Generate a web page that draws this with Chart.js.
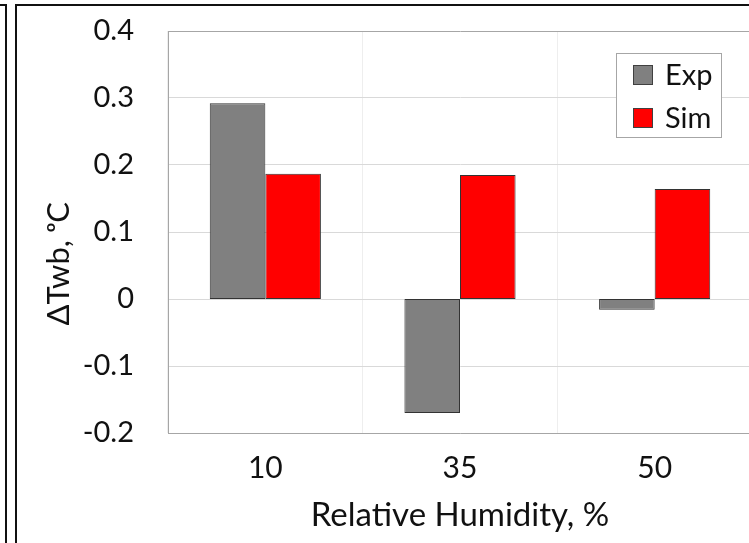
<!DOCTYPE html>
<html>
<head>
<meta charset="utf-8">
<script src="https://cdn.jsdelivr.net/npm/chart.js@4.4.1/dist/chart.umd.min.js"></script>
<style>
    html, body { margin: 0; padding: 0; background: #fff; overflow: hidden; }
    #wrap { position: relative; width: 749px; height: 543px; overflow: hidden; }
    #wrap canvas { position: absolute; left: 0; top: 0; }
    .frame { position: absolute; border-color: #111; border-style: solid; border-width: 0; }
</style>
</head>
<body>
<div id="wrap">
    <canvas id="twb-chart"></canvas>
    <div class="frame" style="left:-10px; top:4px; width:15px; height:560px; border-top-width:2px; border-right-width:2px;"></div>
    <div class="frame" style="left:15px; top:4px; width:760px; height:560px; border-top-width:2px; border-left-width:2px;"></div>
</div>
<script>
// data
var humidity = ['10', '35', '50'];
var expValues = [0.292, -0.170, -0.016];
var simValues = [0.187, 0.185, 0.164];
var yTickLabels = ['-0.2', '-0.1', '0', '0.1', '0.2', '0.3', '0.4'];

var textColor = '#111';
var fontName = 'Lato';

// Excel-like legend box inside the plot area
var boxLegend = {
    id: 'boxLegend',
    afterDraw: function(chart) {
        var ctx = chart.ctx;
        var area = chart.chartArea;
        var w = 106, h = 85;
        var x = area.right - 30 - w;
        var y = area.top + 22;
        ctx.save();
        ctx.fillStyle = '#fff';
        ctx.fillRect(x, y, w, h);
        ctx.strokeStyle = '#a6a6a6';
        ctx.lineWidth = 1;
        ctx.strokeRect(x + 0.5, y + 0.5, w - 1, h - 1);
        ctx.font = '29px ' + fontName;
        ctx.textBaseline = 'middle';
        ctx.textAlign = 'left';
        chart.data.datasets.forEach(function(ds, i) {
            var cy = y + 22 + i * 43;
            ctx.fillStyle = ds.backgroundColor;
            ctx.fillRect(x + 17, cy - 10, 20, 20);
            ctx.strokeStyle = '#404040';
            ctx.strokeRect(x + 17.5, cy - 9.5, 19, 19);
            ctx.fillStyle = textColor;
            ctx.fillText(ds.label, x + 49, cy + 1);
        });
        ctx.restore();
    }
};

function drawTwbChart() {
    var canvas = document.getElementById('twb-chart');
    canvas.width = 760;
    canvas.height = 543;
    new Chart(canvas.getContext('2d'), {
        type: 'bar',
        data: {
            labels: humidity,
            datasets: [{
                label: 'Exp',
                data: expValues,
                backgroundColor: '#808080',
                borderColor: '#333333',
                borderWidth: 1,
                borderSkipped: false
            }, {
                label: 'Sim',
                data: simValues,
                backgroundColor: '#ff0000',
                borderColor: '#333333',
                borderWidth: 1,
                borderSkipped: false
            }]
        },
        options: {
            responsive: false,
            animation: false,
            devicePixelRatio: 1,
            categoryPercentage: 0.571,
            barPercentage: 1,
            layout: { padding: { top: 31, right: 8, bottom: 0, left: 0 } },
            plugins: {
                legend: { display: false },
                tooltip: { enabled: false }
            },
            scales: {
                x: {
                    grid: { color: '#eeeeee', drawTicks: false, offset: true },
                    border: { color: '#a6a6a6', width: 1 },
                    ticks: {
                        color: textColor,
                        padding: 17,
                        font: { family: fontName, size: 30 }
                    },
                    title: {
                        display: true,
                        text: 'Relative Humidity, %',
                        color: textColor,
                        padding: { top: 0, bottom: 8 },
                        font: { family: fontName, size: 33 }
                    },
                    afterFit: function(scale) { scale.height = 110; }
                },
                y: {
                    min: -0.2,
                    max: 0.4,
                    grid: {
                        drawTicks: false,
                        color: function(c) {
                            return c.index === yTickLabels.length - 1 ? '#a6a6a6' : '#d9d9d9';
                        }
                    },
                    border: { color: '#a6a6a6', width: 1 },
                    ticks: {
                        stepSize: 0.1,
                        color: textColor,
                        padding: 34,
                        font: { family: fontName, size: 29 },
                        callback: function(v, i) { return yTickLabels[i]; }
                    },
                    title: {
                        display: true,
                        text: '\u0394Twb, \u1d52C\u00a0\u00a0\u00a0\u00a0\u00a0\u00a0\u00a0\u00a0',
                        color: textColor,
                        padding: { top: 40, bottom: 0 },
                        font: { family: fontName, size: 31 }
                    },
                    afterFit: function(scale) {
                        scale.width = 168;
                        // tick padding would otherwise push the plot top down
                        scale.paddingTop = 0;
                        scale.paddingBottom = 0;
                    }
                }
            }
        },
        plugins: [boxLegend]
    });
}

document.addEventListener('DOMContentLoaded', drawTwbChart);
</script>
</body>
</html>
